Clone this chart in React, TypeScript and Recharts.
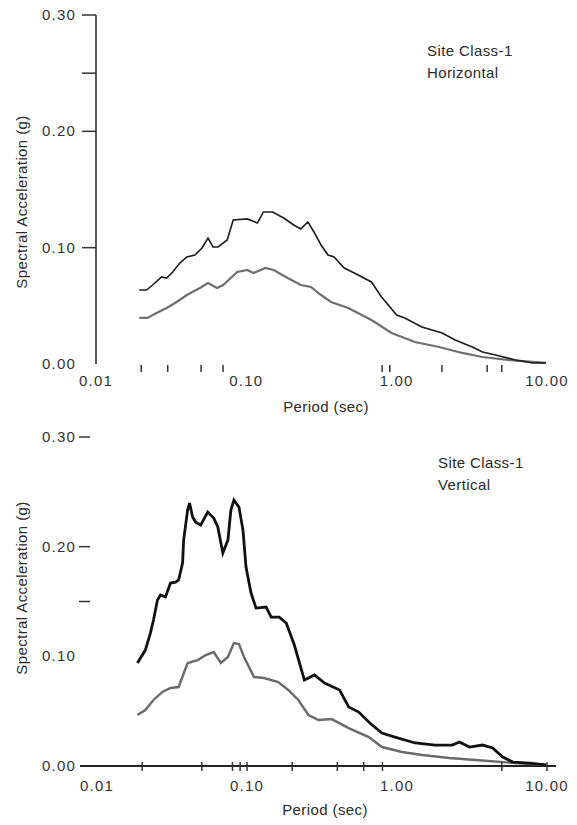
import React from "react";
import { LineChart, Line, XAxis, YAxis, ReferenceLine } from "recharts";

const FONT = "'Liberation Sans', Arial, Helvetica, sans-serif";
const TXT = "#2a2a2a";

// Period (sec) vs spectral acceleration (g)
const horizUpper: [number, number][] = [
  [0.0194, 0.0636], [0.0217, 0.0636], [0.0238, 0.0679], [0.0273, 0.0748], [0.0295, 0.0739],
  [0.0324, 0.0791], [0.0361, 0.0868], [0.0402, 0.092], [0.0455, 0.0937], [0.0507, 0.0997],
  [0.0556, 0.1083], [0.06, 0.1006], [0.0649, 0.1006], [0.0746, 0.1066], [0.0818, 0.1238],
  [0.1016, 0.1247], [0.1185, 0.1212], [0.1301, 0.1307], [0.1495, 0.1307], [0.1772, 0.1255],
  [0.2068, 0.1195], [0.2303, 0.1161], [0.2567, 0.1221], [0.2817, 0.1135], [0.3138, 0.1023],
  [0.3496, 0.0937], [0.3836, 0.092], [0.4477, 0.0825], [0.5226, 0.0782], [0.6796, 0.0705],
  [0.7932, 0.0576], [1.0, 0.0421], [1.132, 0.0396], [1.472, 0.0318], [2.005, 0.0267],
  [2.45, 0.0206], [3.187, 0.0146], [3.72, 0.0103], [4.548, 0.0077], [6.195, 0.0034],
  [8.054, 0.0009], [9.85, 0.0009],
];
const horizLower: [number, number][] = [
  [0.0194, 0.0396], [0.022, 0.0396], [0.0253, 0.0439], [0.0295, 0.0482], [0.0344, 0.0533],
  [0.0402, 0.0593], [0.0491, 0.0653], [0.0556, 0.0696], [0.0639, 0.0653], [0.0701, 0.0679],
  [0.087, 0.0791], [0.1016, 0.0808], [0.1114, 0.0782], [0.1341, 0.0825], [0.1518, 0.0808],
  [0.1884, 0.0739], [0.2303, 0.0679], [0.2689, 0.0662], [0.3138, 0.0593], [0.3663, 0.0533],
  [0.4764, 0.0482], [0.6796, 0.0378], [0.9256, 0.0267], [1.321, 0.0189], [1.914, 0.0146],
  [2.731, 0.0095], [3.72, 0.006], [5.647, 0.0034], [9.85, 0.0009],
];
const vertUpper: [number, number][] = [
  [0.0186, 0.0939], [0.021, 0.1057], [0.0227, 0.1212], [0.0238, 0.1331], [0.0253, 0.1513],
  [0.0265, 0.1559], [0.0286, 0.1541], [0.0309, 0.1668], [0.0334, 0.1677], [0.035, 0.1696],
  [0.0372, 0.185], [0.0378, 0.206], [0.0402, 0.2334], [0.0414, 0.2397], [0.0434, 0.227],
  [0.0455, 0.2224], [0.0491, 0.2197], [0.0547, 0.2315], [0.06, 0.2261], [0.0639, 0.2179],
  [0.069, 0.1942], [0.0746, 0.206], [0.0781, 0.2334], [0.0818, 0.2425], [0.0884, 0.2361],
  [0.094, 0.2151], [0.0985, 0.1814], [0.1064, 0.1577], [0.1149, 0.144], [0.1341, 0.1449],
  [0.145, 0.1358], [0.164, 0.1358], [0.1827, 0.1304], [0.2068, 0.1103], [0.2413, 0.0784],
  [0.2817, 0.083], [0.3287, 0.0757], [0.4144, 0.0693], [0.4764, 0.0538], [0.5559, 0.0492],
  [0.659, 0.0392], [0.7932, 0.0301], [0.9696, 0.0264], [1.321, 0.021], [1.799, 0.0191],
  [2.339, 0.0191], [2.607, 0.0219], [3.042, 0.0173], [3.72, 0.0191], [4.342, 0.0164],
  [5.067, 0.0082], [5.915, 0.0036], [7.688, 0.0027], [9.85, 0.0009],
];
const vertLower: [number, number][] = [
  [0.0186, 0.0465], [0.021, 0.051], [0.0238, 0.0602], [0.0273, 0.0675], [0.0309, 0.0711],
  [0.035, 0.072], [0.0402, 0.0939], [0.0469, 0.0966], [0.0531, 0.1012], [0.06, 0.1039],
  [0.0669, 0.0939], [0.0746, 0.0994], [0.0818, 0.1121], [0.0884, 0.1112], [0.0955, 0.0994],
  [0.1114, 0.0811], [0.1301, 0.0802], [0.1615, 0.0766], [0.1884, 0.0693], [0.2199, 0.0602],
  [0.2567, 0.0465], [0.2996, 0.0419], [0.3663, 0.0428], [0.4764, 0.0346], [0.6489, 0.0264],
  [0.7932, 0.0173], [1.08, 0.0128], [1.472, 0.01], [2.234, 0.0073], [3.338, 0.0055],
  [6.195, 0.0027], [9.85, 0.0009],
];

const xMajorTicks = [0.01, 0.1, 1, 10];
const xMajorLabels = ["0.01", "0.10", "1.00", "10.00"];
const topXMinorTicks = [0.02, 0.03, 0.05, 0.07, 0.8, 0.9, 2, 4, 5];
const bottomXMinorTicks = [0.02, 0.05, 0.08, 0.09, 0.2, 0.4, 0.6, 0.8, 5];
const bottomXMajorDashes = [0.1, 10];
const yTickValues = [0, 0.1, 0.2, 0.3];
const yTickLabels = ["0.00", "0.10", "0.20", "0.30"];
const topYExtra = [0.25];
const bottomYExtra = [0.15];
const topYDashes = [0.1, 0.2, 0.25, 0.3];
const bottomYDashes = [0.15, 0.2, 0.3];

const toRows = (pts: [number, number][]) => pts.map(([t, v]) => ({ t, v }));

const textStyle = { fontFamily: FONT, fontSize: 15, fill: TXT, letterSpacing: 0.4 } as const;
const tickStyle = { fontFamily: FONT, fontSize: 15, fill: "#333", letterSpacing: 1.2 } as const;

const makeXTick = (labelDy: number, minorTop: number, minorLen: number, majorDashes: number[]) =>
  (props: any) => {
    const { x, y, payload } = props;
    const v = payload.value;
    const i = xMajorTicks.indexOf(v);
    return (
      <g>
        {i >= 0 && (
          <text x={x} y={y + labelDy} textAnchor="middle" style={tickStyle}>
            {xMajorLabels[i]}
          </text>
        )}
        {(i < 0 || majorDashes.includes(v)) && (
          <line x1={x} x2={x} y1={y + minorTop} y2={y + minorTop + minorLen} stroke="#333" strokeWidth={1.5} />
        )}
      </g>
    );
  };

const makeYTick = (dashes: number[], dashFrom: number, dashTo: number, labelOff: number) =>
  (props: any) => {
    const { x, y, payload } = props;
    const v = payload.value;
    const i = yTickValues.indexOf(v);
    return (
      <g>
        {i >= 0 && (
          <text x={x - labelOff} y={y + 5} textAnchor="end" style={tickStyle}>
            {yTickLabels[i]}
          </text>
        )}
        {dashes.includes(v) && (
          <line x1={x + dashFrom} x2={x + dashTo} y1={y} y2={y} stroke="#333" strokeWidth={1.5} />
        )}
      </g>
    );
  };

const sortNum = (a: number[]) => [...a].sort((p, q) => p - q);

export default function App() {
  return (
    <div style={{ position: "absolute", left: 0, top: 0, width: 577, height: 825, background: "#fff" }}>
      <div style={{ position: "absolute", left: 0, top: 0 }}>
        <LineChart width={577} height={420} margin={{ top: 15, right: 30, left: 0, bottom: 0 }}>
          <XAxis
            type="number"
            dataKey="t"
            scale="log"
            domain={[0.01, 10]}
            allowDataOverflow
            ticks={sortNum([...xMajorTicks, ...topXMinorTicks])}
            interval={0}
            height={56}
            tickSize={0}
            tickMargin={0}
            axisLine={false}
            tickLine={false}
            tick={makeXTick(22, 1, 7, [])}
          />
          <YAxis
            type="number"
            domain={[0, 0.3]}
            allowDataOverflow
            ticks={sortNum([...yTickValues, ...topYExtra])}
            interval={0}
            width={96}
            tickSize={0}
            tickMargin={0}
            axisLine={{ stroke: "#222", strokeWidth: 1.5 }}
            tickLine={false}
            tick={makeYTick(topYDashes, -14, 0, 20)}
          />
          <Line data={toRows(horizLower)} dataKey="v" type="linear" stroke="#6f6f6f" strokeWidth={2.2} dot={false} isAnimationActive={false} />
          <Line data={toRows(horizUpper)} dataKey="v" type="linear" stroke="#1c1c1c" strokeWidth={1.6} dot={false} isAnimationActive={false} />
          <text x={27} y={202} transform="rotate(-90, 27, 202)" textAnchor="middle" style={textStyle}>
            Spectral Acceleration (g)
          </text>
          <text x={326} y={412} textAnchor="middle" style={textStyle}>Period (sec)</text>
          <text x={427} y={56} style={textStyle}>Site Class-1</text>
          <text x={427} y={78} style={textStyle}>Horizontal</text>
        </LineChart>
      </div>
      <div style={{ position: "absolute", left: 0, top: 420 }}>
        <LineChart width={577} height={405} margin={{ top: 17, right: 30, left: 0, bottom: 0 }}>
          <XAxis
            type="number"
            dataKey="t"
            scale="log"
            domain={[0.01, 10]}
            allowDataOverflow
            ticks={sortNum([...xMajorTicks, ...bottomXMinorTicks])}
            interval={0}
            height={59}
            tickSize={0}
            tickMargin={0}
            axisLine={false}
            tickLine={false}
            tick={makeXTick(25, -4, 9, bottomXMajorDashes)}
          />
          <YAxis
            type="number"
            domain={[0, 0.3]}
            allowDataOverflow
            ticks={sortNum([...yTickValues, ...bottomYExtra])}
            interval={0}
            width={97}
            tickSize={0}
            tickMargin={0}
            axisLine={false}
            tickLine={false}
            tick={makeYTick(bottomYDashes, -18, -7, 21)}
          />
          <ReferenceLine
            segment={[{ x: 0.0077, y: 0 }, { x: 11.5, y: 0 }]}
            ifOverflow="visible"
            stroke="#222"
            strokeWidth={2}
          />
          <Line data={toRows(vertLower)} dataKey="v" type="linear" stroke="#6a6a6a" strokeWidth={2.4} dot={false} isAnimationActive={false} />
          <Line data={toRows(vertUpper)} dataKey="v" type="linear" stroke="#111" strokeWidth={2.8} dot={false} isAnimationActive={false} />
          <text x={27} y={168} transform="rotate(-90, 27, 168)" textAnchor="middle" style={textStyle}>
            Spectral Acceleration (g)
          </text>
          <text x={325} y={395} textAnchor="middle" style={textStyle}>Period (sec)</text>
          <text x={438} y={48} style={textStyle}>Site Class-1</text>
          <text x={438} y={70} style={textStyle}>Vertical</text>
        </LineChart>
      </div>
    </div>
  );
}
